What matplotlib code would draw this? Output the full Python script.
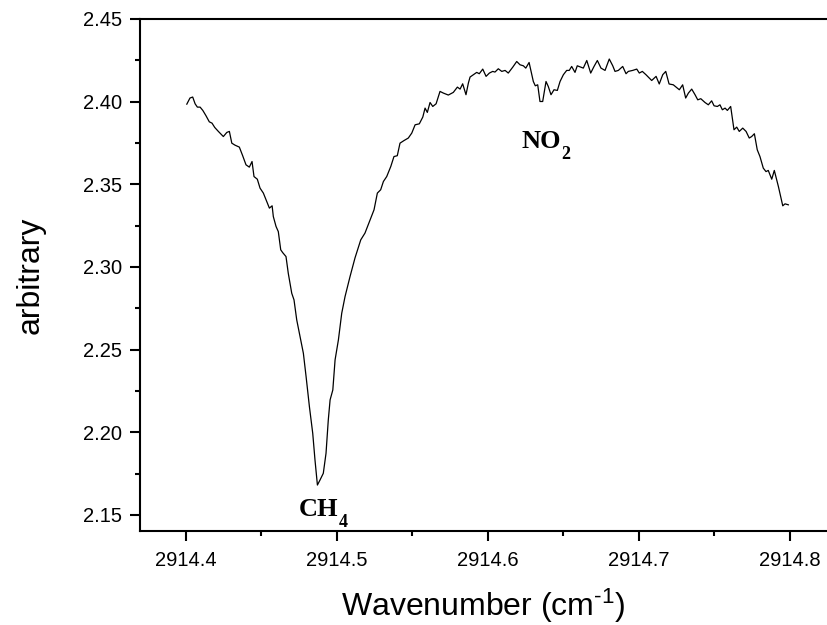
import matplotlib
matplotlib.use("Agg")
import matplotlib.pyplot as plt
from matplotlib.ticker import MultipleLocator

# spectrum
wavenumber = [
    2914.4007, 2914.4028, 2914.4046, 2914.4062, 2914.4077, 2914.4095, 2914.4113, 2914.4134,
    2914.4156, 2914.4174, 2914.4192, 2914.4216, 2914.4249, 2914.4272, 2914.4289, 2914.4305,
    2914.4326, 2914.4355, 2914.4377, 2914.4399, 2914.4421, 2914.4439, 2914.4452, 2914.4474,
    2914.4492, 2914.4514, 2914.4532, 2914.4554, 2914.4572, 2914.4580, 2914.4598, 2914.4613,
    2914.4629, 2914.4642, 2914.4664, 2914.4679, 2914.4702, 2914.4717, 2914.4735, 2914.4757,
    2914.4779, 2914.4797, 2914.4819, 2914.4841, 2914.4856, 2914.4872, 2914.4889, 2914.4911,
    2914.4929, 2914.4944, 2914.4956, 2914.4974, 2914.4989, 2914.5011, 2914.5033, 2914.5055,
    2914.5088, 2914.5121, 2914.5159, 2914.5187, 2914.5221, 2914.5247, 2914.5269, 2914.5291,
    2914.5309, 2914.5331, 2914.5358, 2914.5379, 2914.5401, 2914.5419, 2914.5446, 2914.5474,
    2914.5497, 2914.5519, 2914.5547, 2914.5570, 2914.5585, 2914.5600, 2914.5618, 2914.5636,
    2914.5658, 2914.5684, 2914.5706, 2914.5739, 2914.5772, 2914.5799, 2914.5817, 2914.5834,
    2914.5856, 2914.5872, 2914.5883, 2914.5905, 2914.5927, 2914.5944, 2914.5967, 2914.5989,
    2914.6011, 2914.6033, 2914.6048, 2914.6070, 2914.6093, 2914.6115, 2914.6136, 2914.6166,
    2914.6192, 2914.6214, 2914.6236, 2914.6252, 2914.6274, 2914.6302, 2914.6315, 2914.6331,
    2914.6346, 2914.6364, 2914.6386, 2914.6401, 2914.6419, 2914.6439, 2914.6461, 2914.6479,
    2914.6501, 2914.6523, 2914.6540, 2914.6556, 2914.6578, 2914.6593, 2914.6616, 2914.6633,
    2914.6656, 2914.6682, 2914.6704, 2914.6726, 2914.6750, 2914.6777, 2914.6805, 2914.6828,
    2914.6843, 2914.6865, 2914.6894, 2914.6916, 2914.6931, 2914.6960, 2914.6987, 2914.7004,
    2914.7024, 2914.7048, 2914.7086, 2914.7115, 2914.7136, 2914.7159, 2914.7179, 2914.7201,
    2914.7229, 2914.7269, 2914.7291, 2914.7311, 2914.7329, 2914.7351, 2914.7373, 2914.7391,
    2914.7411, 2914.7439, 2914.7461, 2914.7483, 2914.7499, 2914.7521, 2914.7538, 2914.7554,
    2914.7572, 2914.7587, 2914.7609, 2914.7631, 2914.7649, 2914.7666, 2914.7689, 2914.7711,
    2914.7732, 2914.7748, 2914.7766, 2914.7785, 2914.7803, 2914.7825, 2914.7843, 2914.7858,
    2914.7881, 2914.7898, 2914.7925, 2914.7954, 2914.7969, 2914.7991,
]

signal = [
    2.3985, 2.4022, 2.4028, 2.3987, 2.3967, 2.3967, 2.3947, 2.3915,
    2.3878, 2.3870, 2.3844, 2.3820, 2.3789, 2.3814, 2.3820, 2.3749,
    2.3737, 2.3725, 2.3673, 2.3618, 2.3604, 2.3638, 2.3547, 2.3531,
    2.3477, 2.3447, 2.3406, 2.3356, 2.3370, 2.3305, 2.3245, 2.3214,
    2.3104, 2.3087, 2.3063, 2.2962, 2.2841, 2.2801, 2.2680, 2.2579,
    2.2478, 2.2337, 2.2155, 2.1994, 2.1832, 2.1681, 2.1711, 2.1752,
    2.1873, 2.2074, 2.2196, 2.2256, 2.2438, 2.2559, 2.2720, 2.2821,
    2.2942, 2.3055, 2.3164, 2.3205, 2.3285, 2.3346, 2.3447, 2.3467,
    2.3517, 2.3547, 2.3608, 2.3668, 2.3673, 2.3749, 2.3765, 2.3780,
    2.3810, 2.3860, 2.3866, 2.3907, 2.3961, 2.3935, 2.3995, 2.3971,
    2.3987, 2.4062, 2.4052, 2.4040, 2.4056, 2.4088, 2.4076, 2.4108,
    2.4042, 2.4113, 2.4149, 2.4163, 2.4177, 2.4169, 2.4197, 2.4153,
    2.4173, 2.4183, 2.4179, 2.4199, 2.4183, 2.4189, 2.4173, 2.4209,
    2.4243, 2.4223, 2.4217, 2.4203, 2.4237, 2.4122, 2.4096, 2.4102,
    2.4001, 2.4001, 2.4122, 2.4092, 2.4042, 2.4072, 2.4068, 2.4122,
    2.4163, 2.4189, 2.4189, 2.4213, 2.4177, 2.4217, 2.4209, 2.4203,
    2.4249, 2.4173, 2.4213, 2.4249, 2.4203, 2.4189, 2.4258, 2.4217,
    2.4183, 2.4189, 2.4213, 2.4169, 2.4183, 2.4189, 2.4197, 2.4173,
    2.4183, 2.4163, 2.4128, 2.4153, 2.4107, 2.4163, 2.4183, 2.4107,
    2.4102, 2.4072, 2.4102, 2.4022, 2.4052, 2.4076, 2.4042, 2.4011,
    2.4018, 2.3995, 2.3981, 2.4005, 2.3975, 2.3971, 2.3981, 2.3951,
    2.3961, 2.3947, 2.3971, 2.3830, 2.3846, 2.3820, 2.3840, 2.3820,
    2.3780, 2.3789, 2.3806, 2.3709, 2.3668, 2.3598, 2.3577, 2.3584,
    2.3531, 2.3584, 2.3487, 2.3370, 2.3382, 2.3376,
]

species = ["CH", "NO"]
subscripts = ["4", "2"]
label_pos = [(2914.475, 2.1493), (2914.6225, 2.3721)]

plt.rcParams['font.family'] = ['Liberation Sans', 'DejaVu Sans']
plt.rcParams['mathtext.default'] = 'regular'

fig = plt.figure(figsize=(8.27, 6.25), dpi=100)
ax = fig.add_axes([140 / 827, 94 / 625, 687 / 827, 512 / 625])

ax.plot(wavenumber, signal, color='black', linewidth=0.9)

ax.set_xlim(2914.3697, 2914.8247)
ax.set_ylim(2.1403, 2.45)
ax.xaxis.set_major_locator(MultipleLocator(0.1))
ax.xaxis.set_minor_locator(MultipleLocator(0.05))
ax.yaxis.set_major_locator(MultipleLocator(0.05))
ax.yaxis.set_minor_locator(MultipleLocator(0.025))
ax.yaxis.set_major_formatter(plt.FormatStrFormatter('%.2f'))
ax.xaxis.set_major_formatter(plt.FormatStrFormatter('%.1f'))

ax.tick_params(which='major', direction='out', length=7.5, width=1.5, labelsize=14.5)
ax.tick_params(axis='x', which='major', pad=7)
ax.tick_params(axis='y', which='major', pad=5.5)
ax.tick_params(which='minor', direction='out', length=3.6, width=1.5)
ax.spines['right'].set_visible(False)
for s in ['left', 'bottom', 'top']:
    ax.spines[s].set_linewidth(1.5)

ax.set_xlabel("Wavenumber (cm$^{\u2010" + "1}$)", fontsize=23, labelpad=12)
ax.set_ylabel("arbitrary", fontsize=23, labelpad=27)

serif = ['Liberation Serif', 'DejaVu Serif']
for name, sub, (lx, ly) in zip(species, subscripts, label_pos):
    t = ax.text(lx, ly, name, fontsize=19, fontweight='bold', family=serif,
                ha='left', va='baseline')
    ax.annotate(sub, xy=(lx, ly), xytext=(28.5, -8), textcoords='offset points',
                fontsize=13, fontweight='bold', family=serif,
                ha='left', va='baseline')

fig.savefig("out.png", dpi=100)
